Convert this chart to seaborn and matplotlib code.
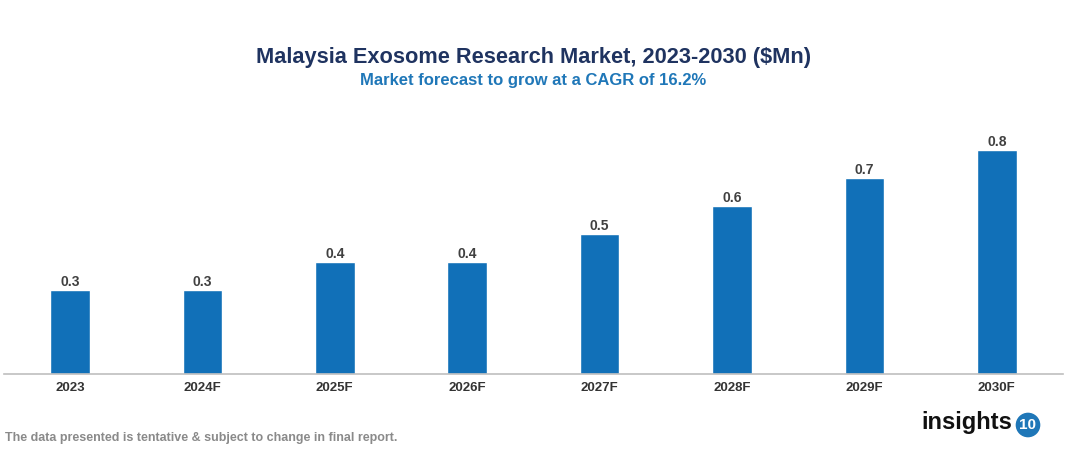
import matplotlib
matplotlib.use("Agg")
import matplotlib.pyplot as plt
import seaborn as sns
import pandas as pd

years = ["2023", "2024F", "2025F", "2026F", "2027F", "2028F", "2029F", "2030F"]
values = [0.3, 0.3, 0.4, 0.4, 0.5, 0.6, 0.7, 0.8]

title = "Malaysia Exosome Research Market, 2023-2030 ($Mn)"
subtitle = "Market forecast to grow at a CAGR of 16.2%"
footer = "The data presented is tentative & subject to change in final report."

sns.set_theme(style="white")
plt.rcParams["font.family"] = ["Liberation Sans", "DejaVu Sans"]

df = pd.DataFrame({"year": years, "value": values})

fig = plt.figure(figsize=(10.67, 4.54), dpi=100)
ax = fig.add_axes([3.8 / 1067, 1 - 374 / 454, (1063 - 3.8) / 1067, (374 - 122) / 454])

sns.barplot(data=df, x="year", y="value", color="#1170B8", width=0.30,
            saturation=1, ax=ax)

ax.set_ylim(0, 0.9)
ax.set_xlim(-0.5, len(years) - 0.5)
ax.set_xlabel("")
ax.set_ylabel("")
ax.set_yticks([])
for s in ["top", "right", "left"]:
    ax.spines[s].set_visible(False)
ax.spines["bottom"].set_color("#BFBFBF")
ax.spines["bottom"].set_linewidth(1.2)
ax.tick_params(axis="x", length=0, pad=6)
for lbl in ax.get_xticklabels():
    lbl.set_fontweight("bold")
    lbl.set_fontsize(9.5)
    lbl.set_color("#333333")

for cont in ax.containers:
    ax.bar_label(cont, labels=[f"{v:.1f}" for v in values], padding=1,
                 fontsize=10, fontweight="bold", color="#404040")

fig.text(0.5, 1 - 57 / 454, title, ha="center", va="center",
         fontsize=15.7, fontweight="bold", color="#1F3360")
fig.text(0.5, 1 - 81 / 454, subtitle, ha="center", va="center",
         fontsize=12, fontweight="bold", color="#1F77B8")
fig.text(5 / 1067, 1 - 438 / 454, footer, ha="left", va="center",
         fontsize=9, fontweight="bold", color="#8A8A8A")

# logo
fig.text(1012 / 1067, 1 - 423 / 454, "insights", ha="right", va="center",
         fontsize=17, fontweight="bold", color="#111111")
fig.text(1028 / 1067, 1 - 425 / 454, "10", ha="center", va="center",
         fontsize=11, fontweight="bold", color="white",
         bbox=dict(boxstyle="circle,pad=0.25", fc="#1F77B8", ec="none"))

fig.savefig("out.png", dpi=100, facecolor="white")
